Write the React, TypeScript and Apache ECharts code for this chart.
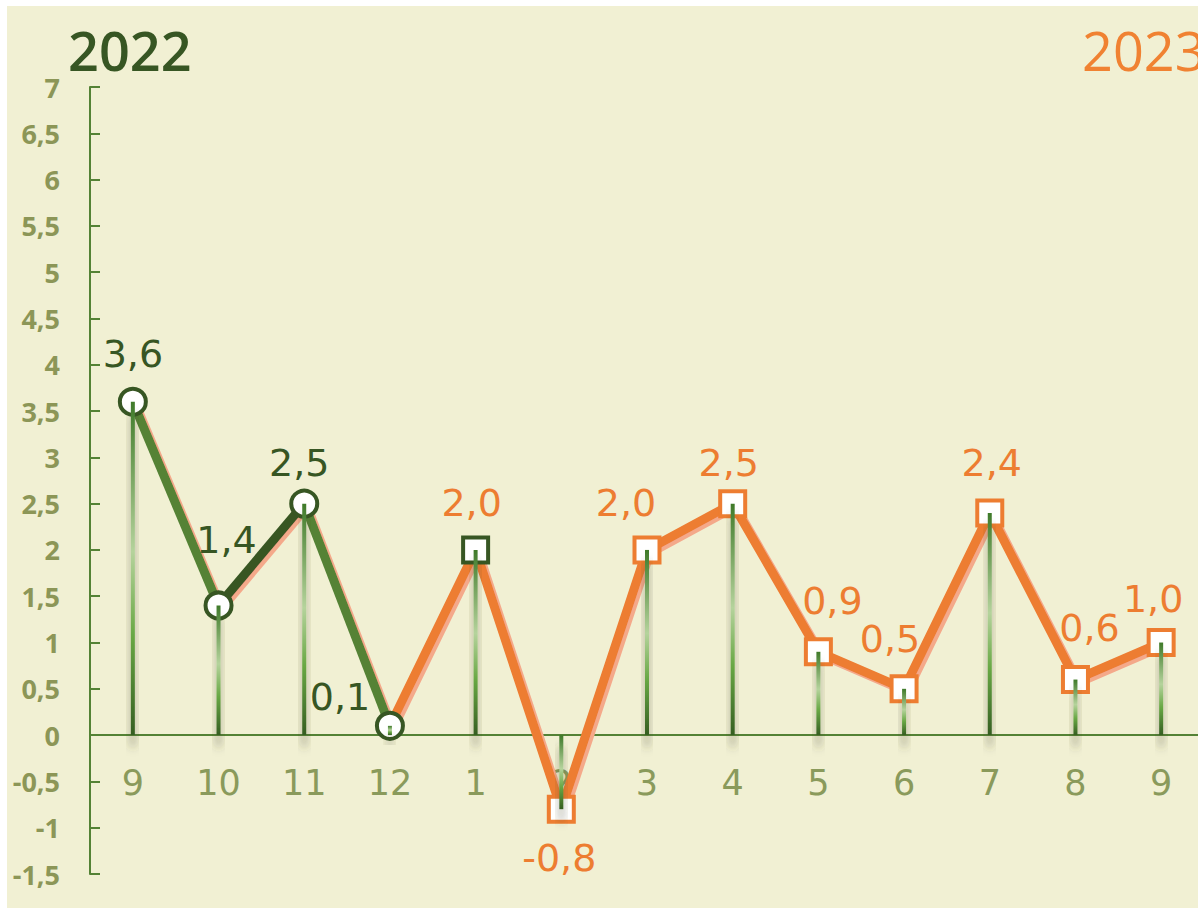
import React, { useEffect, useRef } from "react";
import * as echarts from "echarts";

const categories = ["9", "10", "11", "12", "1", "2", "3", "4", "5", "6", "7", "8", "9"];
const values = [3.6, 1.4, 2.5, 0.1, 2.0, -0.8, 2.0, 2.5, 0.9, 0.5, 2.4, 0.6, 1.0];
const yearLabels = ["2022", "2023"];
// label offsets relative to the point [dx, dy]
const labelOffsets = [
  [0, -48], [8, -65], [-5, -41], [-50, -29], [-4, -47], [-2, 49], [-21, -47],
  [-4, -41], [14, -51], [-14, -50], [2, -50], [14, -52], [-8, -44],
];

const GREEN = "#548235";
const DARK_GREEN = "#375623";
const ORANGE = "#ED7D31";
const SALMON = "#F4A98A";
const FONT = "'Open Sans', 'Noto Sans', sans-serif";
const LABEL_FONT = "'DejaVu Sans', sans-serif";

const Y_MIN = -1.5;
const Y_MAX = 7;
const GRID_TOP = 87;
const GRID_H = 787;

const fmt = (v: number) => v.toFixed(1).replace(".", ",");

function segment(from: number, to: number) {
  return values.map((v, i) => (i >= from && i <= to ? v : null));
}

export default function App() {
  const ref = useRef<HTMLDivElement>(null);
  useEffect(() => {
    if (!ref.current) return;
    const chart = echarts.init(ref.current, undefined, { renderer: "svg" });

    const lineCommon = (data: (number | null)[], color: string) => ({
      type: "line",
      data,
      symbol: "none",
      connectNulls: false,
      z: 2,
      lineStyle: {
        color,
        width: 9,
        shadowColor: SALMON,
        shadowOffsetX: 3,
        shadowOffsetY: 3,
        shadowBlur: 0,
      },
      silent: true,
    });

    const markerData = values.map((v, i) => {
      const green = i <= 4;
      const labelColor = i <= 3 ? DARK_GREEN : ORANGE;
      return {
        value: v,
        symbol: i <= 3 ? "circle" : "rect",
        symbolSize: i <= 3 ? 26 : 25,
        itemStyle: {
          color: "#FFFFFF",
          borderColor: green ? DARK_GREEN : ORANGE,
          borderWidth: 4,
        },
        label: {
          show: true,
          position: "inside",
          offset: labelOffsets[i],
          formatter: fmt(v),
          color: labelColor,
          fontSize: 38,
          fontFamily: LABEL_FONT,
        },
      };
    });

    // pixel offset that brings the bottom x axis up to the zero line
    const zeroOffset = -(GRID_H * (0 - Y_MIN)) / (Y_MAX - Y_MIN);

    chart.setOption({
      animation: false,
      graphic: [
        {
          type: "rect",
          shape: { x: 7, y: 6, width: 1191, height: 902 },
          style: { fill: "#F1F0D3" },
          z: -10,
          silent: true,
        },
        {
          type: "text",
          x: 68,
          y: 50,
          style: {
            text: yearLabels[0],
            fill: DARK_GREEN,
            font: `600 54px ${FONT}`,
            textVerticalAlign: "middle",
          },
        },
        {
          type: "text",
          x: 1082,
          y: 50,
          style: {
            text: yearLabels[1],
            fill: "#F08232",
            font: `500 54px ${FONT}`,
            textVerticalAlign: "middle",
          },
        },
      ],
      grid: { left: 90, top: GRID_TOP, width: 1114, height: GRID_H, outerBoundsMode: "none", containLabel: false },
      xAxis: {
        type: "category",
        data: categories,
        boundaryGap: true,
        position: "bottom",
        offset: zeroOffset,
        axisLine: { onZero: false, lineStyle: { color: GREEN, width: 2 } },
        axisTick: { show: false },
        axisLabel: {
          color: "#8A9A5B",
          fontSize: 35,
          fontFamily: LABEL_FONT,
          margin: 30,
          interval: 0,
        },
        z: 1,
      },
      yAxis: {
        type: "value",
        min: Y_MIN,
        max: Y_MAX,
        interval: 0.5,
        splitLine: { show: false },
        axisLine: { show: true, lineStyle: { color: GREEN, width: 2 } },
        axisTick: { show: true, inside: true, length: 10, lineStyle: { color: GREEN, width: 2 } },
        axisLabel: {
          color: "#8C9657",
          fontSize: 27,
          fontWeight: "bold",
          fontFamily: FONT,
          margin: 30,
          formatter: (v: number) => String(v).replace(".", ","),
        },
      },
      series: [
        lineCommon(segment(3, 12), ORANGE),
        lineCommon(segment(0, 1), GREEN),
        lineCommon(segment(1, 2), DARK_GREEN),
        lineCommon(segment(2, 3), GREEN),
        {
          type: "line",
          data: markerData,
          lineStyle: { width: 0, opacity: 0 },
          showSymbol: true,
          z: 3,
          silent: true,
        },
        {
          type: "bar",
          data: values,
          barWidth: 4,
          z: 4,
          silent: true,
          itemStyle: {
            color: new echarts.graphic.LinearGradient(0, 0, 0, 1, [
              { offset: 0, color: "#3F7A2A" },
              { offset: 0.45, color: "#B5D39C" },
              { offset: 0.7, color: "#68A844" },
              { offset: 1, color: "#355E22" },
            ]),
            shadowColor: "rgba(70,70,40,0.5)",
            shadowBlur: 8,
            shadowOffsetY: 12,
          },
        },
      ],
    });
    return () => chart.dispose();
  }, []);
  return (
    <div
      ref={ref}
      style={{ position: "fixed", left: 0, top: 0, width: 1198, height: 908, background: "#FFFFFF" }}
    />
  );
}
